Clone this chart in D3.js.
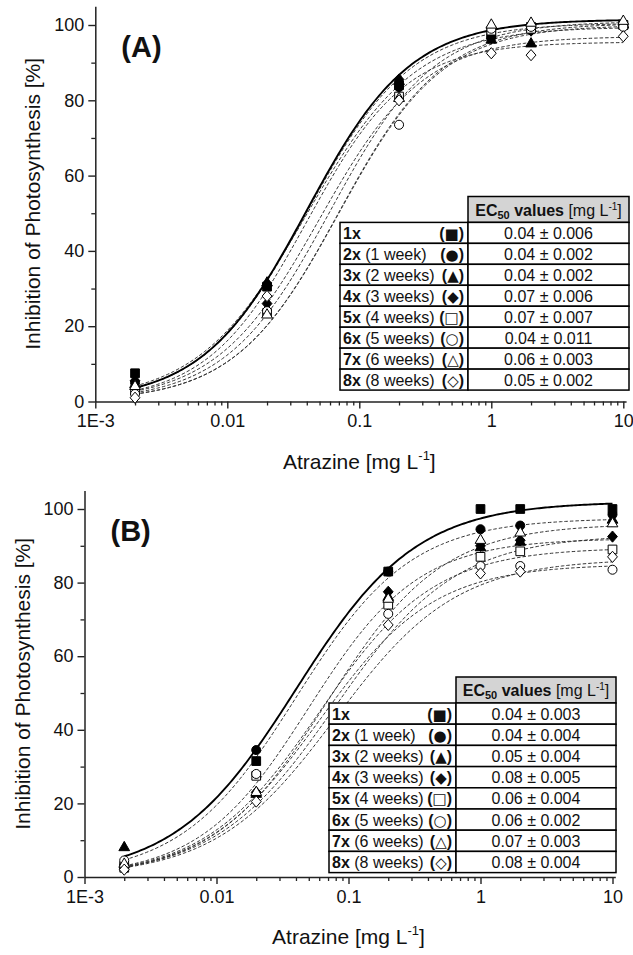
<!DOCTYPE html>
<html>
<head>
<meta charset="utf-8">
<script src="https://cdn.jsdelivr.net/npm/d3@7"></script>
<style>
  body { margin: 0; background: #fff; }
  svg { display: block; }
  text { font-family: "Liberation Sans", Arial, sans-serif; fill: #111; }
</style>
</head>
<body>
<svg id="chart" width="633" height="955"></svg>
<script>
// Atrazine concentrations tested [mg L-1]
const concentrations = [0.002, 0.02, 0.2, 1, 2, 10];

// Exposure series
const seriesCodes = ["1x", "2x", "3x", "4x", "5x", "6x", "7x", "8x"];
const seriesWeeks = ["", "(1 week)", "(2 weeks)", "(3 weeks)", "(4 weeks)", "(5 weeks)", "(6 weeks)", "(8 weeks)"];
const seriesGlyphs = ["\u25A0", "\u25CF", "\u25B2", "\u25C6", "\u25A1", "\u25CB", "\u25B3", "\u25C7"];

// Panel A: inhibition of photosynthesis [%]
const inhibitionA = [
  [7.5, 30.5, 84.0, 97.5, 99.5, 100.0],
  [5.0, 31.0, 83.5, 97.0, 99.0, 100.0],
  [4.5, 31.5, 85.0, 96.0, 95.0, 100.0],
  [5.5, 26.0, 85.5, 96.5, 98.5, 99.5],
  [3.0, 23.5, 81.0, 98.5, 99.0, 100.0],
  [2.0, 24.0, 73.5, 99.0, 99.5, 99.5],
  [4.0, 23.0, 80.5, 100.0, 100.5, 101.0],
  [1.0, 28.0, 80.0, 92.5, 92.0, 97.0]
];
const ec50LabelsA = ["0.04 \u00B1 0.006", "0.04 \u00B1 0.002", "0.04 \u00B1 0.002", "0.07 \u00B1 0.006",
                     "0.07 \u00B1 0.007", "0.04 \u00B1 0.011", "0.06 \u00B1 0.003", "0.05 \u00B1 0.002"];
const fitTopA  = [101.5, 100.5, 95.5, 100.0, 100.5, 99.5, 101.0, 97.0];
const fitHillA = [1.10, 1.10, 1.15, 1.10, 1.10, 1.05, 1.10, 1.10];

// Panel B: inhibition of photosynthesis [%]
const inhibitionB = [
  [3.0, 31.5, 83.0, 100.0, 100.0, 100.0],
  [3.0, 34.5, 83.0, 94.5, 95.5, 98.5],
  [8.0, 22.5, 76.0, 89.5, 91.0, 97.0],
  [2.5, 23.0, 77.5, 90.0, 91.5, 92.5],
  [2.5, 27.5, 74.0, 87.0, 88.5, 89.0],
  [4.5, 28.0, 71.5, 84.5, 84.5, 83.5],
  [3.5, 23.0, 75.5, 91.5, 93.5, 96.0],
  [2.0, 20.5, 68.5, 82.5, 83.0, 87.0]
];
const ec50LabelsB = ["0.04 \u00B1 0.003", "0.04 \u00B1 0.004", "0.05 \u00B1 0.004", "0.08 \u00B1 0.005",
                     "0.06 \u00B1 0.004", "0.06 \u00B1 0.002", "0.07 \u00B1 0.003", "0.08 \u00B1 0.004"];
const fitTopB  = [102.0, 97.5, 92.0, 93.0, 89.5, 85.0, 96.0, 86.5];
const fitHillB = [0.95, 1.00, 1.05, 0.95, 1.00, 1.00, 1.00, 0.95];

// Axis ticks
const xTickValues = [0.001, 0.01, 0.1, 1, 10];
const xTickLabels = ["1E-3", "0.01", "0.1", "1", "10"];
const yTickValues = [0, 20, 40, 60, 80, 100];
const yMinorValues = [10, 30, 50, 70, 90];

const svg = d3.select("#chart");

// Marker shapes: filled for series 1-4, open for 5-8
const squarePath = d3.symbol().type(d3.symbolSquare).size(76)();
const circlePath = d3.symbol().type(d3.symbolCircle).size(64)();
const trianglePath = d3.symbol().type(d3.symbolTriangle).size(50)();
const diamondPath = "M0,-5.6L4.9,0L0,5.6L-4.9,0Z";
const markerPaths = [squarePath, circlePath, trianglePath, diamondPath,
                     squarePath, circlePath, trianglePath, diamondPath];

function drawPanel(cfg) {
  const g = svg.append("g");
  const x = d3.scaleLog().domain([0.001, 10.5]).range([cfg.x0, cfg.x10 + cfg.decade * Math.log10(1.05)]);
  const y = d3.scaleLinear().domain([0, 105]).range([cfg.y0, cfg.y0 - 105 * cfg.unit]);

  // minor x ticks
  const xMinor = [];
  for (let e = -3; e < 1; e++) for (let m = 2; m <= 9; m++) xMinor.push(m * Math.pow(10, e));
  g.append("g").attr("transform", `translate(0,${cfg.y0})`)
    .call(d3.axisBottom(x).tickValues(xMinor).tickSize(4).tickSizeOuter(0).tickFormat(""))
    .call(s => s.select(".domain").remove())
    .call(s => s.selectAll("line").attr("stroke", "#222").attr("stroke-width", 1.3));
  g.append("g").attr("transform", `translate(${cfg.x0},0)`)
    .call(d3.axisLeft(y).tickValues(yMinorValues).tickSize(4).tickSizeOuter(0).tickFormat(""))
    .call(s => s.select(".domain").remove())
    .call(s => s.selectAll("line").attr("stroke", "#222").attr("stroke-width", 1.3));

  // major axes
  const xAxis = g.append("g").attr("transform", `translate(0,${cfg.y0})`)
    .call(d3.axisBottom(x).tickValues(xTickValues).tickSize(7).tickSizeOuter(0)
      .tickPadding(6).tickFormat((d, i) => xTickLabels[i]));
  const yAxis = g.append("g").attr("transform", `translate(${cfg.x0},0)`)
    .call(d3.axisLeft(y).tickValues(yTickValues).tickSize(7).tickSizeOuter(0)
      .tickPadding(4).tickFormat(d3.format("d")));
  [xAxis, yAxis].forEach(a => {
    a.select(".domain").attr("stroke", "#222").attr("stroke-width", 1.5);
    a.selectAll(".tick line").attr("stroke", "#222").attr("stroke-width", 1.4);
    a.selectAll(".tick text").attr("font-size", 18).attr("fill", "#111")
      .attr("font-family", "'Liberation Sans', Arial, sans-serif");
  });

  // axis titles
  const xt = g.append("text")
    .attr("x", (cfg.x0 + cfg.x10) / 2).attr("y", cfg.y0 + 67)
    .attr("text-anchor", "middle").attr("font-size", 21);
  xt.append("tspan").text("Atrazine [mg L");
  xt.append("tspan").text("-1").attr("font-size", 13).attr("dy", -9);
  xt.append("tspan").text("]").attr("dy", 9);

  g.append("text")
    .attr("transform", `translate(${cfg.x0 - 55},${(cfg.y0 + y(105)) / 2}) rotate(-90)`)
    .attr("text-anchor", "middle").attr("font-size", 21)
    .text("Inhibition of Photosynthesis [%]");

  // panel tag
  g.append("text").attr("x", cfg.x0 + 26).attr("y", cfg.tagY)
    .attr("font-size", 29).attr("font-weight", "bold").text(cfg.tag);

  // fitted dose-response curves
  const ec50 = cfg.labels.map(s => parseFloat(s));
  const xs = d3.range(0, 241).map(i => Math.pow(10, Math.log10(0.002) + i * (Math.log10(10) - Math.log10(0.002)) / 240));
  const line = d3.line().x(d => x(d[0])).y(d => y(d[1]));
  for (let k = cfg.data.length - 1; k >= 0; k--) {
    const pts = xs.map(c => [c, cfg.top[k] / (1 + Math.pow(ec50[k] / c, cfg.hill[k]))]);
    g.append("path").attr("d", line(pts)).attr("fill", "none")
      .attr("stroke", k === 0 ? "#000" : "#333")
      .attr("stroke-width", k === 0 ? 1.9 : 1.0)
      .attr("stroke-dasharray", k === 0 ? null : "3.5,2");
  }

  // data points
  cfg.data.forEach((row, k) => {
    g.append("g").selectAll("path").data(row).join("path")
      .attr("d", markerPaths[k])
      .attr("transform", (v, i) => `translate(${x(concentrations[i])},${y(v)})`)
      .attr("fill", k < 4 ? "#000" : "#fff")
      .attr("stroke", "#000").attr("stroke-width", 1);
  });

  // EC50 table
  const t = cfg.table;
  const fs = 16;
  const tg = g.append("g");
  tg.append("rect").attr("x", t.mid).attr("y", t.headTop)
    .attr("width", t.right - t.mid).attr("height", t.rowTop - t.headTop)
    .attr("fill", "#d4d4d4").attr("stroke", "#000").attr("stroke-width", 1.5);
  const ht = tg.append("text").attr("x", (t.mid + t.right) / 2).attr("y", t.headTop + 19)
    .attr("text-anchor", "middle").attr("font-size", fs);
  ht.append("tspan").text("EC").attr("font-weight", "bold");
  ht.append("tspan").text("50").attr("font-weight", "bold").attr("font-size", 11).attr("dy", 3);
  ht.append("tspan").text(" values").attr("font-weight", "bold").attr("dy", -3);
  ht.append("tspan").text(" [mg L");
  ht.append("tspan").text("-1").attr("font-size", 10).attr("dy", -6);
  ht.append("tspan").text("]").attr("dy", 6);

  seriesCodes.forEach((code, k) => {
    const top = t.rowTop + k * t.rowH;
    tg.append("rect").attr("x", t.left).attr("y", top).attr("width", t.mid - t.left).attr("height", t.rowH)
      .attr("fill", "#fff").attr("stroke", "#000").attr("stroke-width", 1.5);
    tg.append("rect").attr("x", t.mid).attr("y", top).attr("width", t.right - t.mid).attr("height", t.rowH)
      .attr("fill", "#fff").attr("stroke", "#000").attr("stroke-width", 1.5);
    const ty = top + t.rowH / 2 + 6;
    const lt = tg.append("text").attr("x", t.left + 3).attr("y", ty).attr("font-size", fs);
    lt.append("tspan").text(code).attr("font-weight", "bold");
    if (seriesWeeks[k]) lt.append("tspan").text(" " + seriesWeeks[k]);
    const st = tg.append("text").attr("x", t.mid - 4).attr("y", ty)
      .attr("text-anchor", "end").attr("font-size", fs);
    st.append("tspan").text("(").attr("font-weight", "bold");
    st.append("tspan").text(seriesGlyphs[k]).attr("font-family", "'DejaVu Sans', sans-serif").attr("font-size", 15);
    st.append("tspan").text(")").attr("font-weight", "bold");
    tg.append("text").attr("x", (t.mid + t.right) / 2).attr("y", ty)
      .attr("text-anchor", "middle").attr("font-size", fs).text(cfg.labels[k]);
  });
}

drawPanel({
  tag: "(A)", tagY: 57,
  x0: 95.3, x10: 623.3, decade: 132, y0: 401.5, unit: 3.765,
  data: inhibitionA, labels: ec50LabelsA, top: fitTopA, hill: fitHillA,
  table: { left: 340, mid: 468, right: 629, headTop: 196.5, rowTop: 222.4, rowH: 20.96 }
});
drawPanel({
  tag: "(B)", tagY: 541,
  x0: 84.5, x10: 612.5, decade: 132, y0: 877, unit: 3.68,
  data: inhibitionB, labels: ec50LabelsB, top: fitTopB, hill: fitHillB,
  table: { left: 329, mid: 456, right: 616, headTop: 677, rowTop: 703, rowH: 21.2 }
});
</script>
</body>
</html>
